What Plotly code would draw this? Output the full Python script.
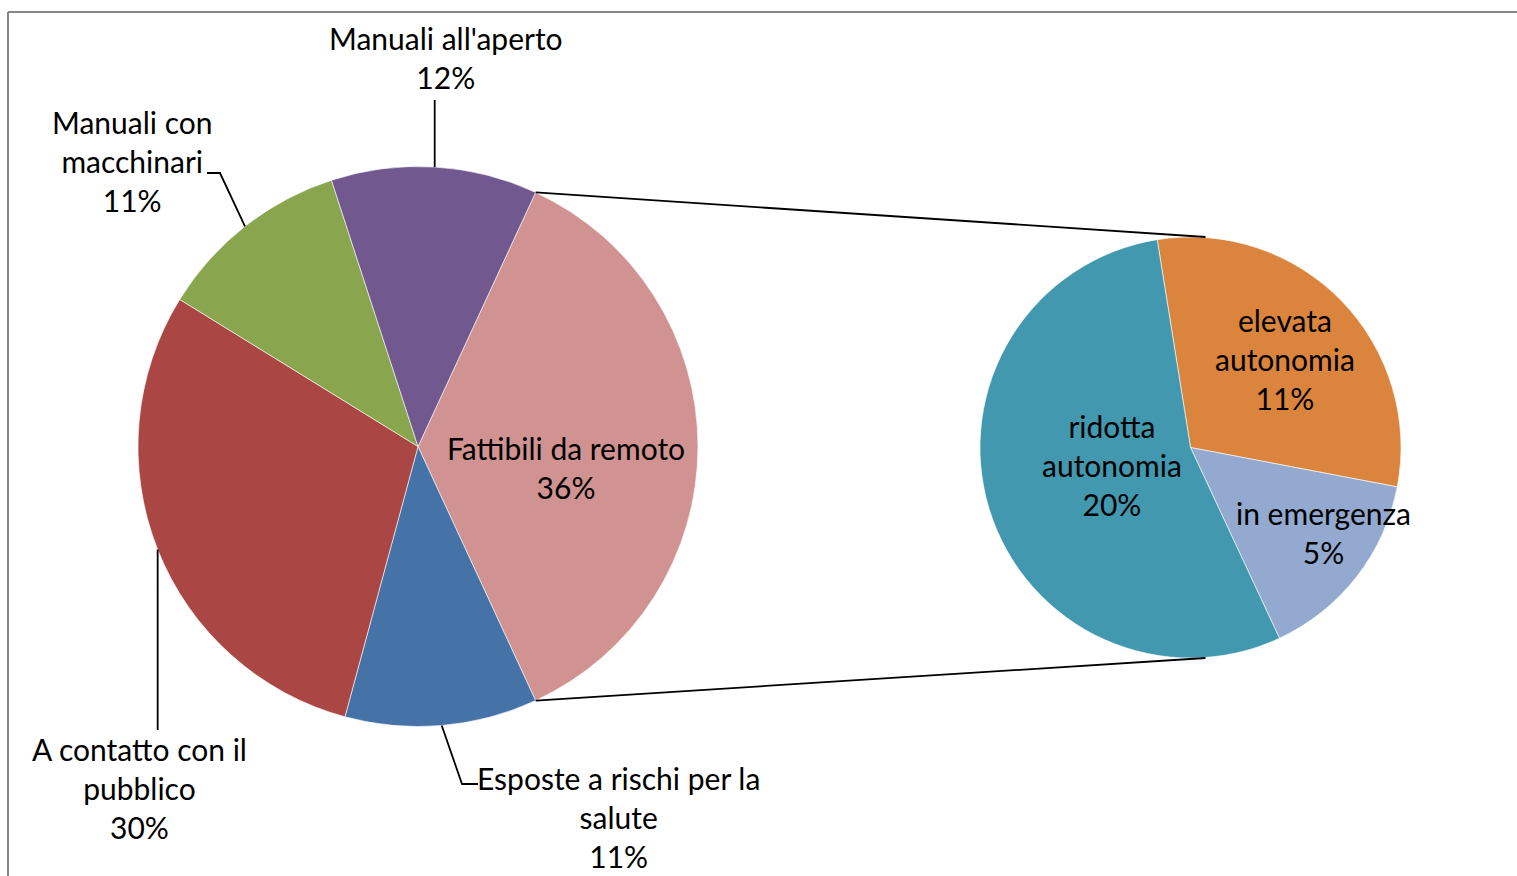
import math
import plotly.graph_objects as go

# ---------------- data ----------------
main_labels = ["Fattibili da remoto", "Esposte a rischi per la salute",
               "A contatto con il pubblico", "Manuali con macchinari",
               "Manuali all'aperto"]
main_display = ["Fattibili da remoto", "Esposte a rischi per la\nsalute",
                "A contatto con il\npubblico", "Manuali con\nmacchinari",
                "Manuali all'aperto"]
main_values = [36.2, 11.1, 29.6, 11.2, 11.9]

sub_labels = ["elevata autonomia", "in emergenza", "ridotta autonomia"]
sub_display = ["elevata\nautonomia", "in emergenza", "ridotta\nautonomia"]
sub_values = [11.05, 5.45, 19.7]

# ---------------- style ----------------
main_colors = ["#D19392", "#4572A7", "#AA4643", "#89A54E", "#71588F"]
sub_colors = ["#DB843D", "#93A9CF", "#4198AF"]

W, H = 1517, 876
FONT = "Lato"
FS = 30

C1, R1 = (418.0, 446.5), 280.0
C2, R2 = (1190.5, 447.5), 210.5
ROT2 = -9.1

# label block centres (px)
main_label_pos = [(566, 467.5), (618, 816.5), (139, 787.5), (132, 161.5), (446, 57.5)]
sub_label_pos = [(1285, 358.5), (1323, 532.5), (1112, 464.5)]
# leader line extra points after slice-edge midpoint (None -> same x as start)
leaders = {1: [(462, 784), (478, 784)],
           2: [(None, 730)],
           3: [(220, 173), (207, 173)],
           4: [(None, 100)]}


def px(x):
    return x / W


def py(y):
    return 1 - y / H


def domain(c, r):
    return dict(x=[px(c[0] - r), px(c[0] + r)], y=[py(c[1] + r), py(c[1] - r)])


tot = sum(main_values)
ROT1 = 90 - main_values[0] / tot * 360 / 2

fig = go.Figure()
fig.add_trace(go.Pie(
    values=main_values, labels=main_labels, sort=False, direction="clockwise",
    rotation=ROT1, domain=domain(C1, R1), textinfo="none", hoverinfo="label+percent",
    marker=dict(colors=main_colors, line=dict(color="white", width=0.6)),
    showlegend=False))
fig.add_trace(go.Pie(
    values=sub_values, labels=sub_labels, sort=False, direction="clockwise",
    rotation=ROT2, domain=domain(C2, R2), textinfo="none", hoverinfo="label+value",
    marker=dict(colors=sub_colors, line=dict(color="white", width=0.6)),
    showlegend=False))

annotations = []


def add_label(text, pos):
    annotations.append(dict(
        x=px(pos[0]), y=py(pos[1]), xref="paper", yref="paper",
        text=text, showarrow=False, xanchor="center", yanchor="middle",
        align="center", font=dict(family=FONT, size=FS, color="black")))


for lab, v, pos in zip(main_display, main_values, main_label_pos):
    add_label(lab.replace("\n", "<br>") + "<br>" + f"{round(v / tot * 100)}%", pos)
for lab, v, pos in zip(sub_display, sub_values, sub_label_pos):
    add_label(lab.replace("\n", "<br>") + "<br>" + f"{round(v / tot * 100)}%", pos)

shapes = []


def edge_point(c, r, ang_deg):
    a = math.radians(ang_deg)
    return (c[0] + r * math.sin(a), c[1] - r * math.cos(a))


# leader lines from slice mid-angle on the edge
start = ROT1
for i, v in enumerate(main_values):
    span = v / tot * 360
    mid = start + span / 2
    if i in leaders:
        p0 = edge_point(C1, R1, mid)
        pts = [p0]
        for (x, y) in leaders[i]:
            pts.append((p0[0] if x is None else x, y))
        path = "M " + " L ".join(f"{px(x):.5f},{py(y):.5f}" for x, y in pts)
        shapes.append(dict(type="path", path=path, xref="paper", yref="paper",
                           line=dict(color="black", width=1.8)))
    start += span

# connector lines between pies
a0 = ROT1
a1 = ROT1 + main_values[0] / tot * 360
p_top = edge_point(C1, R1, a0)
p_bot = edge_point(C1, R1, a1)
q_top = (C2[0] + 15, C2[1] - R2)
q_bot = (C2[0] + 15, C2[1] + R2)
for p, q in [(p_top, q_top), (p_bot, q_bot)]:
    shapes.append(dict(type="line", xref="paper", yref="paper",
                       x0=px(p[0]), y0=py(p[1]), x1=px(q[0]), y1=py(q[1]),
                       line=dict(color="black", width=1.8)))

# chart-area border (top and left edges visible)
shapes.append(dict(type="line", xref="paper", yref="paper",
                   x0=px(8), y0=py(12), x1=px(W + 5), y1=py(12),
                   line=dict(color="#868686", width=2)))
shapes.append(dict(type="line", xref="paper", yref="paper",
                   x0=px(8), y0=py(12), x1=px(8), y1=py(H + 5),
                   line=dict(color="#868686", width=2)))

fig.update_layout(
    width=W, height=H, margin=dict(l=0, r=0, t=0, b=0),
    paper_bgcolor="white", plot_bgcolor="white",
    annotations=annotations, shapes=shapes,
    font=dict(family=FONT, size=FS, color="black"))

fig.write_html("out.html", config={"displayModeBar": False},
               post_script="document.body.style.margin='0';document.body.style.overflow='hidden';")
